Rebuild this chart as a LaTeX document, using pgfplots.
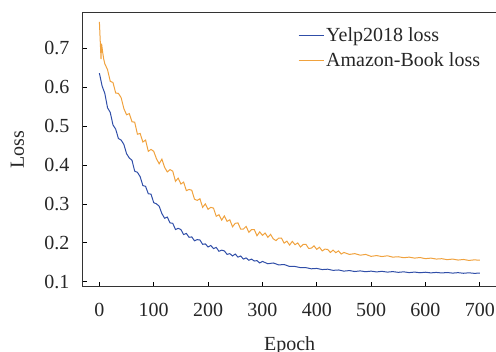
\documentclass[border=0pt]{standalone}
\usepackage{pgfplots}
\pgfplotsset{compat=1.18}
\usepackage{fontspec}
\setmainfont{Liberation Serif}
\definecolor{yelpblue}{RGB}{48,78,168}
\definecolor{amzorange}{RGB}{240,162,62}
\begin{document}
\begin{tikzpicture}
\begin{axis}[
  scale only axis,
  width=430.4pt, height=274.4pt,
  xmin=-32, xmax=760,
  ymin=0.087, ymax=0.7925,
  xtick={0,100,200,300,400,500,600,700},
  ytick={0.1,0.2,0.3,0.4,0.5,0.6,0.7},
  yticklabel style={/pgf/number format/fixed,/pgf/number format/precision=1,/pgf/number format/fixed zerofill, xshift=-9pt},
  xticklabel style={yshift=-13pt},
  /pgf/number format/assume math mode=true,
  tick align=inside,
  xtick pos=bottom, ytick pos=left,
  major tick length=5pt,
  tick style={black, line width=0.6pt},
  axis line style={black!80, line width=0.7pt},
  font=\fontsize{20}{23}\selectfont,
  ticklabel style={font=\fontsize{20}{23}\selectfont, text=black!85},
  xlabel={Epoch},
  ylabel={Loss},
  xlabel style={at={(axis description cs:0.4823,0)}, anchor=base, yshift=-63.5pt, text=black!85},
  ylabel style={at={(axis description cs:0,0.5)}, anchor=center, yshift=64.5pt, text=black!85},
  legend style={draw=none, fill=none, at={(axis description cs:0.5019,0.951)}, anchor=north west, inner sep=0pt, row sep=5pt, font=\fontsize{20}{23}\selectfont, text=black!85, nodes={inner sep=2pt}},
  legend cell align=left,
  legend image code/.code={\draw[#1, line width=1pt] (0pt,0pt) -- (25pt,0pt);},
]
\addplot[yelpblue, line width=1pt] coordinates {
(0,0.636) (5,0.603) (10,0.584) (15,0.547) (20,0.535) (25,0.503) (30,0.492) (35,0.468) (40,0.464) (45,0.453)
(50,0.429) (55,0.418) (60,0.412) (65,0.384) (70,0.381) (75,0.370) (80,0.347) (85,0.345) (90,0.326) (95,0.325)
(100,0.303) (105,0.300) (110,0.294) (115,0.275) (120,0.263) (125,0.266) (130,0.251) (135,0.250) (140,0.234) (145,0.237)
(150,0.234) (155,0.221) (160,0.224) (165,0.214) (170,0.215) (175,0.205) (180,0.208) (185,0.207) (190,0.196) (195,0.197)
(200,0.189) (205,0.193) (210,0.185) (215,0.188) (220,0.178) (225,0.181) (230,0.179) (235,0.170) (240,0.172) (245,0.166)
(250,0.171) (255,0.163) (260,0.166) (265,0.158) (270,0.161) (275,0.155) (280,0.158) (285,0.153) (290,0.154) (295,0.148)
(300,0.152) (310,0.146) (320,0.148) (330,0.143) (340,0.144) (350,0.139) (360,0.139) (370,0.136) (380,0.136) (390,0.133)
(400,0.134) (410,0.131) (420,0.132) (430,0.129) (440,0.130) (450,0.127) (460,0.1285) (470,0.126) (480,0.1276) (490,0.1255)
(500,0.127) (510,0.125) (520,0.1265) (530,0.1245) (540,0.1258) (550,0.1239) (560,0.1252) (570,0.1232) (580,0.1246) (590,0.1228)
(600,0.1242) (610,0.1225) (620,0.1237) (630,0.1223) (640,0.1235) (650,0.1219) (660,0.1231) (670,0.1215) (680,0.1227) (690,0.1213)
(700,0.122)
};
\addlegendentry{Yelp2018 loss}
\addplot[amzorange, line width=1pt] coordinates {
(0,0.768) (2,0.705) (3,0.672) (4,0.712) (6,0.690) (8,0.672) (10,0.660)
(15,0.645) (20,0.615) (25,0.612) (30,0.585) (35,0.584) (40,0.573) (45,0.545) (50,0.529) (55,0.532) (60,0.511)
(65,0.510) (70,0.479) (75,0.481) (80,0.459) (85,0.464) (90,0.435) (95,0.440) (100,0.435) (105,0.416) (110,0.403)
(115,0.415) (120,0.394) (125,0.382) (130,0.388) (135,0.384) (140,0.358) (145,0.366) (150,0.351)
(155,0.356) (160,0.334) (165,0.337) (170,0.335) (175,0.312) (180,0.309) (185,0.313) (190,0.291) (195,0.300) (200,0.286)
(205,0.291) (210,0.289) (215,0.268) (220,0.272) (225,0.258) (230,0.269) (235,0.255) (240,0.259) (245,0.241) (250,0.250)
(255,0.251) (260,0.235) (265,0.235) (270,0.242) (275,0.227) (280,0.234) (285,0.234) (290,0.218) (295,0.228) (300,0.219)
(305,0.225) (310,0.214) (315,0.2215) (320,0.210) (325,0.2055) (330,0.212) (335,0.212) (340,0.199) (345,0.204) (350,0.194)
(355,0.2035) (360,0.195) (365,0.1995) (370,0.189) (375,0.1955) (380,0.196) (385,0.1855) (390,0.186) (395,0.192) (400,0.183)
(405,0.1885) (410,0.179) (415,0.1835) (420,0.183) (425,0.175) (430,0.181) (435,0.1745) (440,0.179) (445,0.171) (450,0.175)
(460,0.170) (470,0.172) (480,0.168) (490,0.170) (500,0.165) (510,0.167) (520,0.1645) (530,0.1665) (540,0.163) (550,0.164)
(560,0.1615) (570,0.163) (580,0.1605) (590,0.162) (600,0.159) (610,0.1605) (620,0.158) (630,0.159) (640,0.1565) (650,0.158)
(660,0.1555) (670,0.157) (680,0.1545) (690,0.156) (700,0.155)
};
\addlegendentry{Amazon-Book loss}
\end{axis}
\pgfresetboundingbox
\path[use as bounding box] (current axis.south west) ++(-82pt,-65.3pt) rectangle ++(496pt,352pt);
\end{tikzpicture}
\end{document}
